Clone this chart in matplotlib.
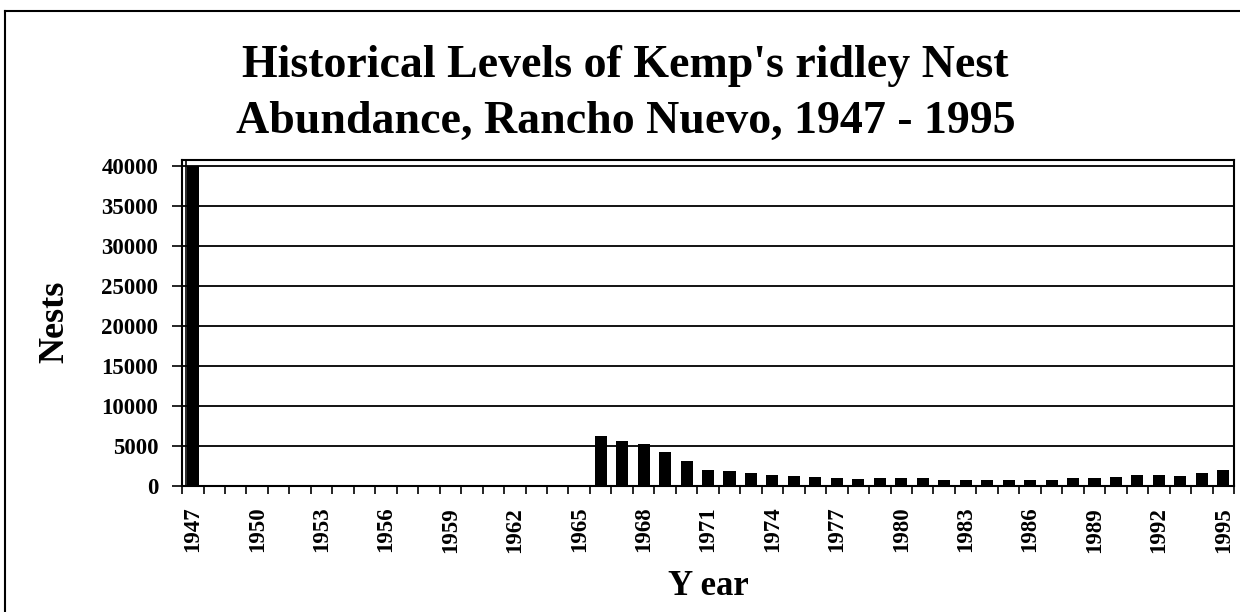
import numpy as np
import matplotlib.pyplot as plt
from matplotlib.lines import Line2D

# ------------------------------------------------
# DATA
# ------------------------------------------------
years = list(range(1947, 1996))

nests_by_year = {
    1947: 40000,
    1966: 6200, 1967: 5650, 1968: 5200, 1969: 4250, 1970: 3100,
    1971: 2000, 1972: 1850, 1973: 1600, 1974: 1400, 1975: 1270,
    1976: 1140, 1977: 1060, 1978: 930, 1979: 970, 1980: 970,
    1981: 1020, 1982: 810, 1983: 810, 1984: 740, 1985: 800,
    1986: 770, 1987: 730, 1988: 970, 1989: 1020, 1990: 1150,
    1991: 1320, 1992: 1320, 1993: 1280, 1994: 1580, 1995: 1960,
}
nests = [nests_by_year.get(y, 0) for y in years]

label_years = list(range(1947, 1996, 3))
y_ticks = list(range(0, 40001, 5000))

TITLE_1 = "Historical Levels of Kemp's ridley Nest"
TITLE_2 = "Abundance, Rancho Nuevo, 1947 - 1995"

FONT = "Liberation Serif"

# ------------------------------------------------
# PLOT
# ------------------------------------------------
fig = plt.figure(figsize=(12.4, 6.12), dpi=100)
ax = fig.add_axes([0.1468, 0.2059, 0.8484, 0.5327])

ax.bar(years, nests, width=0.56, color="black", zorder=3)

ax.set_xlim(years[0] - 0.5, years[-1] + 0.5)
ax.set_ylim(0, 40750)

# ----- y axis -----
ax.set_yticks(y_ticks)
ax.set_yticklabels([str(v) for v in y_ticks],
                   fontfamily=FONT, fontweight="bold", fontsize=16.5)
ax.yaxis.grid(True, color="black", linewidth=1.3)
ax.set_axisbelow(True)
ax.tick_params(axis="y", direction="out", length=7.2, width=1.2, pad=10)

# ----- x axis: labels every 3 years, tick marks between categories -----
ax.set_xticks(label_years)
ax.set_xticklabels([str(y) for y in label_years], rotation=90,
                   fontfamily=FONT, fontweight="bold", fontsize=16.5)
ax.tick_params(axis="x", which="major", length=0, pad=15)
ax.set_xticks(np.arange(years[0] - 0.5, years[-1] + 1), minor=True)
ax.tick_params(axis="x", which="minor", direction="out", length=5.8, width=1.2)

for s in ax.spines.values():
    s.set_linewidth(1.5)
    s.set_color("black")

# inner plot-area border next to the y axis
ax.plot([0.004, 0.004], [0, 1], transform=ax.transAxes, color="black",
        lw=1.2, clip_on=False)

# ----- axis labels -----
ax.set_ylabel("Nests", fontfamily=FONT, fontweight="bold", fontsize=26)
ax.yaxis.label.set_va("baseline")
ax.yaxis.set_label_coords(-0.1131, 0.503)

ax.set_xlabel("Y ear", fontfamily=FONT, fontweight="bold", fontsize=25)
ax.xaxis.label.set_va("baseline")
ax.xaxis.set_label_coords(0.5, -0.334)

# ----- title -----
fig.text(625 / 1240, 1 - 77 / 612, TITLE_1, ha="center", va="baseline",
         fontfamily=FONT, fontweight="bold", fontsize=33)
fig.text(626 / 1240, 1 - 133 / 612, TITLE_2, ha="center", va="baseline",
         fontfamily=FONT, fontweight="bold", fontsize=33)

# ----- outer frame -----
fig.add_artist(Line2D([0.004, 0.004], [0.0, 0.982], color="black", lw=1.5))
fig.add_artist(Line2D([0.004, 1.0], [0.982, 0.982], color="black", lw=1.5))

fig.savefig("out.png", dpi=100)
